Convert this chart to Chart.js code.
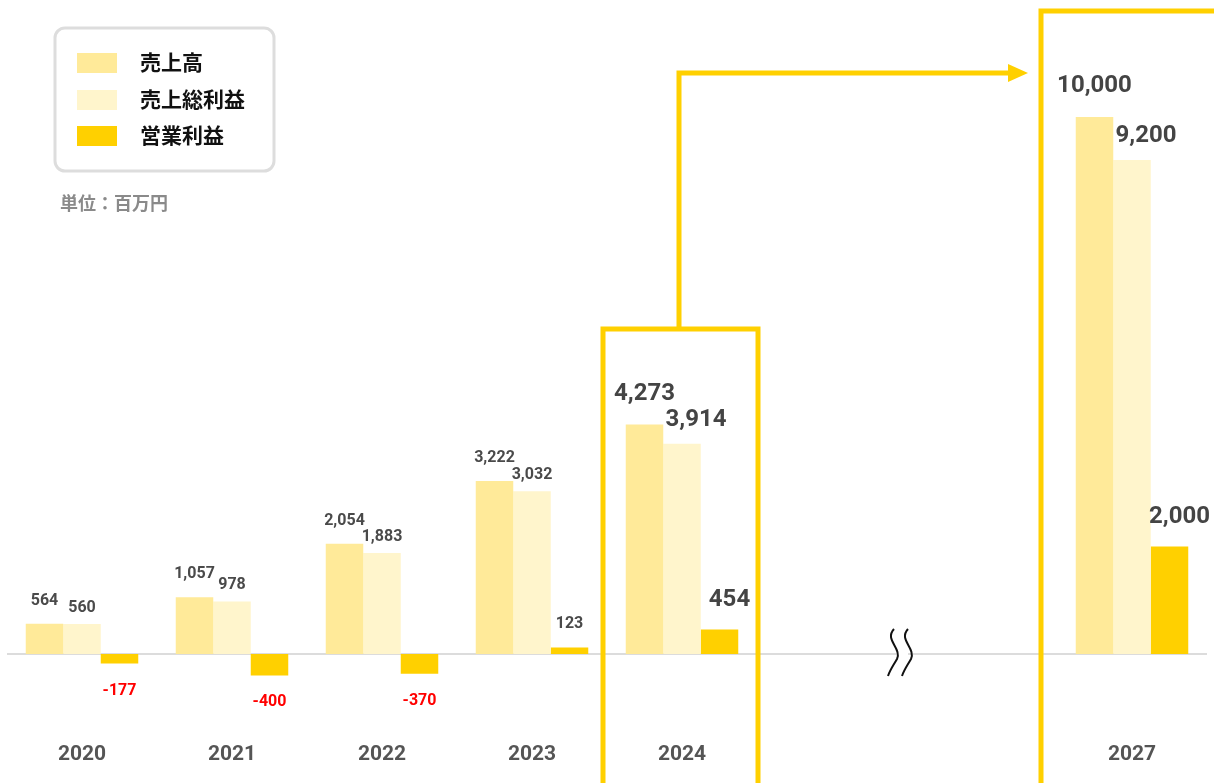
<!DOCTYPE html>
<html lang="ja">
<head>
<meta charset="utf-8">
<script src="https://cdn.jsdelivr.net/npm/chart.js@4"></script>
<style>
  html, body { margin: 0; padding: 0; background: #fff; }
  #wrap { width: 1214px; height: 783px; position: relative; }
</style>
</head>
<body>
<div id="wrap"><canvas id="chart"></canvas></div>
<script>
// ===== 業績推移チャート =====

const years = ['2020', '2021', '2022', '2023', '2024', '', '', '2027'];
const sales = [564, 1057, 2054, 3222, 4273, null, null, 10000];       // 売上高
const grossProfit = [560, 978, 1883, 3032, 3914, null, null, 9200];   // 売上総利益
const opProfit = [-177, -400, -370, 123, 454, null, null, 2000];      // 営業利益
const seriesNames = ['売上高', '売上総利益', '営業利益'];
const highlighted = ['2024', '2027'];
const unitText = '単位：百万円';

const COLORS = ['#FFEA99', '#FFF5CC', '#FFD000'];
const ACCENT = '#FFD000';
const FONT = 'Roboto, "Noto Sans CJK JP", sans-serif';
const JP_FONT = '"Noto Sans CJK JP", sans-serif';

// 軸線・省略記号・枠・矢印・ラベル・凡例を描くプラグイン
const decorPlugin = {
    id: 'decor',
    beforeDatasetsDraw(chart) {
        const { ctx, chartArea, scales } = chart;
        const y0 = scales.y.getPixelForValue(0);
        ctx.save();
        ctx.strokeStyle = '#dcdcdc';
        ctx.lineWidth = 2;
        ctx.beginPath();
        ctx.moveTo(chartArea.left, y0);
        ctx.lineTo(chartArea.right, y0);
        ctx.stroke();

        // 省略記号（波線）
        const xb = (scales.x.getPixelForValue(5) + scales.x.getPixelForValue(6)) / 2 - 5;
        ctx.fillStyle = '#fff';
        ctx.fillRect(xb - 6, y0 - 3, 12, 6);
        ctx.strokeStyle = '#111';
        ctx.lineWidth = 2;
        [xb - 7, xb + 7].forEach(cx => {
            ctx.beginPath();
            ctx.moveTo(cx - 1, y0 - 25);
            ctx.bezierCurveTo(cx - 11, y0 - 14, cx + 7, y0 - 6, cx + 2, y0 + 5);
            ctx.bezierCurveTo(cx - 2, y0 + 12, cx - 5, y0 + 16, cx - 7, y0 + 22);
            ctx.stroke();
        });
        ctx.restore();
    },
    afterDatasetsDraw(chart) {
        const { ctx, scales, data } = chart;
        ctx.save();

        // 強調枠
        const x24 = scales.x.getPixelForValue(years.indexOf('2024'));
        const x27 = scales.x.getPixelForValue(years.indexOf('2027'));
        ctx.strokeStyle = ACCENT;
        ctx.lineWidth = 5;
        ctx.strokeRect(x24 - 79, 329, 155, 470);
        ctx.strokeRect(x27 - 91, 11, 200, 790);

        // 矢印
        ctx.beginPath();
        ctx.moveTo(x24 - 3, 327);
        ctx.lineTo(x24 - 3, 73);
        ctx.lineTo(1012, 73);
        ctx.stroke();
        ctx.fillStyle = ACCENT;
        ctx.beginPath();
        ctx.moveTo(1008, 64);
        ctx.lineTo(1028, 73);
        ctx.lineTo(1008, 82);
        ctx.closePath();
        ctx.fill();

        // 値ラベル
        ctx.textAlign = 'center';
        ctx.textBaseline = 'middle';
        const gapSmall = [23, 16, 23];
        const gapBig = [31, 24, 30];
        const shiftBig = [0, 14, 10];
        data.datasets.forEach((ds, di) => {
            const meta = chart.getDatasetMeta(di);
            meta.data.forEach((bar, i) => {
                const v = ds.data[i];
                if (v === null || v === undefined) return;
                const big = highlighted.includes(years[i]);
                const txt = v.toLocaleString('en-US');
                if (v < 0) {
                    ctx.fillStyle = '#ff0000';
                    ctx.font = 'bold 16px ' + FONT;
                    ctx.fillText(txt, bar.x, bar.y + 27);
                } else if (big) {
                    ctx.fillStyle = '#444';
                    ctx.font = 'bold 24px ' + FONT;
                    ctx.fillText(txt, bar.x + shiftBig[di], bar.y - gapBig[di]);
                } else {
                    ctx.fillStyle = '#4a4a4a';
                    ctx.font = 'bold 16px ' + FONT;
                    ctx.fillText(txt, bar.x, bar.y - gapSmall[di]);
                }
            });
        });

        // 年ラベル
        ctx.fillStyle = '#555';
        ctx.font = 'bold 21px ' + FONT;
        years.forEach((yr, i) => {
            if (yr) ctx.fillText(yr, scales.x.getPixelForValue(i), 755);
        });

        // 凡例
        ctx.strokeStyle = '#dddddd';
        ctx.lineWidth = 3;
        ctx.beginPath();
        ctx.roundRect(55, 28, 219, 143, 10);
        ctx.stroke();
        const rows = [63, 100, 136];
        ctx.textAlign = 'left';
        ctx.font = 'bold 21px ' + JP_FONT;
        data.datasets.forEach((ds, di) => {
            ctx.fillStyle = ds.backgroundColor;
            ctx.fillRect(77, rows[di] - 10, 40, 20);
            ctx.fillStyle = '#111';
            ctx.fillText(ds.label, 140, rows[di] - 1);
        });

        ctx.fillStyle = '#8a8a8a';
        ctx.font = 'bold 18px ' + JP_FONT;
        ctx.fillText(unitText, 60, 203);
        ctx.restore();
    }
};

const seriesData = [sales, grossProfit, opProfit];

new Chart(document.getElementById('chart'), {
    type: 'bar',
    data: {
        labels: years,
        datasets: seriesData.map((d, i) => ({
            label: seriesNames[i],
            data: d,
            backgroundColor: COLORS[i],
            borderWidth: 0,
            categoryPercentage: 0.75,
            barPercentage: 1.0
        }))
    },
    options: {
        responsive: true,
        maintainAspectRatio: false,
        animation: false,
        layout: { padding: { left: 7, right: 7, top: 117, bottom: 75.3 } },
        plugins: {
            legend: { display: false },
            tooltip: { enabled: false }
        },
        scales: {
            x: { display: false },
            y: { display: false, min: -1000, max: 10000 }
        }
    },
    plugins: [decorPlugin]
});
</script>
</body>
</html>
